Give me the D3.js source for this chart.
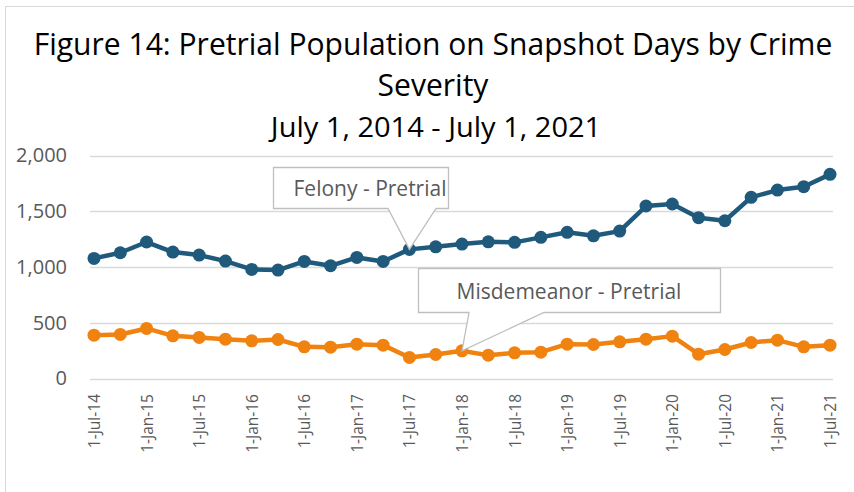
<!DOCTYPE html>
<html>
<meta charset="utf-8">
<title>Figure 14</title>
<style>
body { margin: 0; background: #fff; }
text { font-family: "Open Sans", sans-serif; }
.tick text { fill: #595959; }
</style>
<body>
<div id="chart"></div>
<script src="https://cdn.jsdelivr.net/npm/d3@7"></script>
<script>
// snapshot days, every 3 months
var dates = ["1-Jul-14","1-Oct-14","1-Jan-15","1-Apr-15","1-Jul-15","1-Oct-15","1-Jan-16","1-Apr-16",
  "1-Jul-16","1-Oct-16","1-Jan-17","1-Apr-17","1-Jul-17","1-Oct-17","1-Jan-18","1-Apr-18",
  "1-Jul-18","1-Oct-18","1-Jan-19","1-Apr-19","1-Jul-19","1-Oct-19","1-Jan-20","1-Apr-20",
  "1-Jul-20","1-Oct-20","1-Jan-21","1-Apr-21","1-Jul-21"];
var felony = [1077,1128,1224,1134,1107,1053,978,972,1050,1011,1086,1050,1158,1181,1206,1226,
  1221,1266,1311,1280,1322,1547,1565,1442,1415,1625,1690,1720,1831];
var misdemeanor = [389,395,449,383,368,353,338,350,284,281,308,299,189,215,248,209,
  230,236,308,305,329,353,380,218,260,323,344,284,299];
var yTicks = [0,500,1000,1500,2000];
var xTicks = dates.filter(function(d, i) { return i % 2 == 0; });

var width = 854, height = 492;
var svg = d3.select("#chart").append("svg")
    .attr("width", width)
    .attr("height", height);

// chart frame
svg.append("rect")
    .attr("x", 5.5).attr("y", 6.5)
    .attr("width", 900).attr("height", 600)
    .attr("fill", "none").attr("stroke", "#d9d9d9");

// titles
function title(txt, cx, cy, size, sx) {
  svg.append("text")
      .attr("transform", "translate(" + cx + "," + cy + ") scale(" + sx + ",1)")
      .attr("text-anchor", "middle").attr("font-size", size)
      .text(txt);
}
title("Figure 14: Pretrial Population on Snapshot Days by Crime", 433, 55, 31, 0.97);
title("Severity", 433, 96, 31, 0.97);
title("July 1, 2014 - July 1, 2021", 436, 137, 27, 1.075);

var x = d3.scalePoint().domain(dates).range([94, 830]);
var y = d3.scaleLinear().domain([0, 2000]).range([378.5, 155.5]);

// gridlines
svg.append("g").selectAll("line").data(yTicks).join("line")
    .attr("x1", 90).attr("x2", 833)
    .attr("y1", function(d) { return Math.round(y(d)) + 0.5; })
    .attr("y2", function(d) { return Math.round(y(d)) + 0.5; })
    .attr("stroke", "#d9d9d9").attr("stroke-width", 1.3);

// y axis labels
var yAxis = svg.append("g").attr("transform", "translate(72,0)")
    .call(d3.axisLeft(y).tickValues(yTicks).tickSize(0).tickPadding(5).tickFormat(d3.format(",")));
yAxis.select(".domain").remove();
yAxis.selectAll("text").attr("font-size", 20);

// x axis labels
var xAxis = svg.append("g").attr("transform", "translate(0,394)")
    .call(d3.axisBottom(x).tickValues(xTicks).tickSize(0));
xAxis.select(".domain").remove();
xAxis.selectAll("text")
    .attr("font-size", 15.5)
    .attr("transform", "rotate(-90)")
    .attr("text-anchor", "end")
    .attr("x", 0).attr("y", 0).attr("dy", "0.35em");

var line = d3.line()
    .x(function(d, i) { return x(dates[i]); })
    .y(function(d) { return y(d); });

function drawSeries(values, color) {
  svg.append("path").datum(values)
      .attr("d", line).attr("fill", "none")
      .attr("stroke", color).attr("stroke-width", 4.5).attr("stroke-linejoin", "round");
  svg.append("g").selectAll("circle").data(values).join("circle")
      .attr("cx", function(d, i) { return x(dates[i]); })
      .attr("cy", function(d) { return y(d); })
      .attr("r", 6.5).attr("fill", color);
}
drawSeries(felony, "#1f5a7d");
drawSeries(misdemeanor, "#f0820f");

// callouts
function callout(bx, by, bw, bh, p1, p2, idx, values, label, lx) {
  var tx = x(dates[idx]), ty = y(values[idx]);
  var path = "M" + bx + "," + by + "H" + (bx + bw) + "V" + (by + bh) +
    "H" + p2 + "L" + tx + "," + ty + "L" + p1 + "," + (by + bh) + "H" + bx + "Z";
  svg.append("path").attr("d", path)
      .attr("fill", "#fff").attr("stroke", "#bfbfbf").attr("stroke-width", 1.3);
  svg.append("text").attr("x", lx).attr("y", by + bh / 2 + 1).attr("dy", "0.35em")
      .attr("text-anchor", "middle").attr("fill", "#595959")
      .attr("font-size", 21)
      .text(label);
}
callout(273.5, 167.5, 175, 41, 388, 436, 12, felony, "Felony - Pretrial", 370);
callout(418.5, 268.5, 302, 44, 469, 544, 14, misdemeanor, "Misdemeanor - Pretrial", 569);
</script>
</body>
</html>
